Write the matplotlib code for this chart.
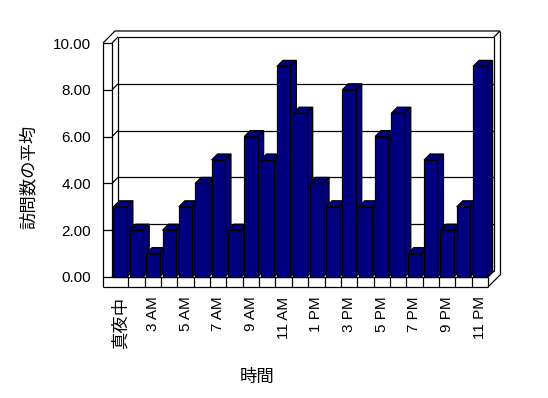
import matplotlib
matplotlib.use('Agg')
import matplotlib.pyplot as plt
from matplotlib.patches import Polygon
import numpy as np

plt.rcParams['font.family'] = ['Liberation Sans', 'Noto Sans CJK JP']

hours = ['真夜中', '1 AM', '3 AM', '4 AM', '5 AM', '6 AM', '7 AM', '8 AM', '9 AM',
         '10 AM', '11 AM', '正午', '1 PM', '2 PM', '3 PM', '4 PM', '5 PM', '6 PM',
         '7 PM', '8 PM', '9 PM', '10 PM', '11 PM']
visits = [3, 2, 1, 2, 3, 4, 5, 2, 6, 5, 9, 7, 4, 3, 8, 3, 6, 7, 1, 5, 2, 3, 9]
yticks = [0, 2, 4, 6, 8, 10]
ytick_labels = ['0.00', '2.00', '4.00', '6.00', '8.00', '10.00']
xlabel = '時間'
ylabel = '訪問数の平均'

W, H = 548, 398
fig = plt.figure(figsize=(W / 100, H / 100), dpi=100)
fig.patch.set_facecolor('white')
ax = fig.add_axes([112 / W, (H - 277) / H, 376 / W, 234 / H])
n = len(visits)
x = np.arange(n)
x0, x1 = -0.5, n - 0.5
ax.set_xlim(x0, x1)
ax.set_ylim(0, 10)
for s in ax.spines.values():
    s.set_visible(False)
ax.patch.set_visible(False)

# 3D style constants (in data units)
pxx = 376 / n
pxy = 234 / 10
ddx, ddy = 6 / pxx, 6 / pxy
tw = 9 / pxx
ft = 10 / pxy
lw = 0.9
kw = dict(color='black', lw=lw, clip_on=False, zorder=2, solid_capstyle='butt')

# walls / floor
for v in yticks:
    ax.plot([x0, x0 + ddx], [v, v + ddy], **kw)
    ax.plot([x0 + ddx, x1 + ddx], [v + ddy, v + ddy], **kw)
ax.plot([x0, x1], [0, 0], **kw)
ax.plot([x0 - tw, x1], [-ft, -ft], **kw)
ax.plot([x0 - tw, x0 - tw], [-ft, 10], **kw)
ax.plot([x0, x0], [0, 10], **kw)
ax.plot([x1, x1], [-ft, 0], **kw)
ax.plot([x1, x1 + ddx], [0, ddy], **kw)
ax.plot([x1, x1 + 2 * ddx], [-ft, -ft + 2 * ddy], **kw)
ax.plot([x1 + ddx, x1 + ddx], [ddy, 10 + ddy], **kw)
ax.plot([x1 + 2 * ddx, x1 + 2 * ddx], [-ft + 2 * ddy, 10 + 2 * ddy], **kw)
ax.plot([x0 - tw, x0 - tw + 2 * ddx, x1 + 2 * ddx], [10, 10 + 2 * ddy, 10 + 2 * ddy], **kw)
ax.plot([x1 + ddx, x1 + 2 * ddx], [10 + ddy, 10 + 2 * ddy], **kw)
ax.plot([x0 + ddx, x0 + ddx], [ddy, 10 + ddy], **kw)

# bars
bw = 0.82
navy = '#000080'
bars = ax.bar(x, visits, width=bw, color=navy, edgecolor='black', linewidth=lw)
for i, (p, v) in enumerate(zip(bars.patches, visits)):
    p.set_zorder(10 + 2 * i + 1)
    p.set_clip_on(False)
    l, r = i - bw / 2, i + bw / 2
    top = Polygon([(l, v), (r, v), (r + ddx, v + ddy), (l + ddx, v + ddy)], closed=True,
                  facecolor=navy, edgecolor='black', linewidth=lw, zorder=10 + 2 * i, clip_on=False)
    side = Polygon([(r, 0), (r, v), (r + ddx, v + ddy), (r + ddx, ddy)], closed=True,
                   facecolor=navy, edgecolor='black', linewidth=lw, zorder=10 + 2 * i, clip_on=False)
    ax.add_patch(top)
    ax.add_patch(side)

# ticks
ax.set_yticks(yticks)
ax.set_yticklabels(ytick_labels, fontsize=11)
ax.tick_params(axis='y', length=9 * 0.72, width=lw, direction='out', pad=8.6)
ax.set_xticks(x[::2])
ax.set_xticklabels(hours[::2], rotation=90, fontsize=11)
ax.set_xticks(np.arange(n - 1) + 0.5, minor=True)
ax.tick_params(axis='x', which='major', length=0, pad=14)
ax.tick_params(axis='x', which='minor', length=10 * 0.72, width=lw, direction='out')
ax.get_xticklabels()[0].set_fontsize(12.5)

fig.text(28 / W, 1 - 177 / H, ylabel, rotation=90, ha='center', va='center', fontsize=12.5)
fig.text(257 / W, 1 - 377 / H, xlabel, ha='center', va='center', fontsize=12.5)

fig.savefig('out.png', dpi=100, facecolor='white')
